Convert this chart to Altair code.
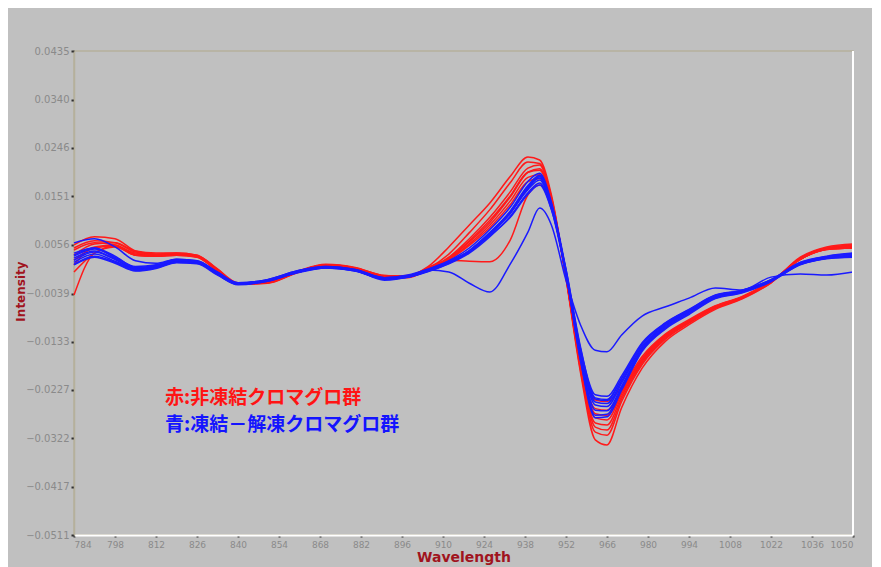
import altair as alt
import pandas as pd

# Wavelength grid (nm)
wavelengths = [784, 791, 798, 805, 812, 819, 826, 833, 840, 850, 860, 870, 880, 890,
               898, 905, 912, 919, 926, 933, 939, 943, 947, 952, 957, 962, 966, 971,
               978, 986, 994, 1003, 1012, 1022, 1032, 1041, 1050]

# Intensities in units of 1e-4
red_1 = [50, 64, 60, 42, 38, 40, 36, 8, -20, -18, 2, 16, 10, -5, -4, 14, 52, 95, 138, 190, 228, 222, 154, -10, -195, -325, -335, -262, -185, -132, -100, -70, -50, -18, 32, 52, 58]
red_2 = [56, 72, 68, 44, 37, 39, 35, 7, -19, -17, 3, 17, 11, -5, -6, 10, 38, 80, 125, 178, 218, 215, 150, -8, -190, -310, -316, -250, -178, -128, -97, -68, -49, -18, 30, 50, 56]
red_3 = [17, 52, 56, 38, 36, 38, 34, 6, -20, -18, 2, 16, 10, -6, -7, 8, 32, 68, 110, 160, 206, 212, 148, -6, -185, -300, -306, -245, -175, -126, -96, -67, -48, -17, 30, 50, 54]
red_4 = [3, 40, 54, 40, 37, 38, 33, 5, -21, -19, 1, 15, 9, -6, -8, 8, 30, 62, 100, 150, 198, 205, 145, -8, -182, -292, -296, -240, -172, -124, -94, -66, -47, -16, 28, 48, 52]
red_5 = [46, 60, 56, 36, 35, 37, 33, 6, -19, -17, 3, 17, 11, -4, -6, 9, 28, 58, 95, 142, 188, 193, 140, -5, -178, -282, -286, -235, -170, -122, -93, -65, -46, -16, 28, 47, 50]
red_6 = [36, 58, 60, 44, 40, 40, 36, 9, -18, -16, 4, 18, 12, -4, -5, 9, 27, 55, 90, 135, 180, 186, 136, -3, -172, -264, -267, -228, -166, -120, -92, -64, -46, -16, 28, 48, 53]
red_7 = [-42, 40, 52, 36, 34, 36, 32, 5, -20, -18, 2, 16, 10, -6, -6, 8, 30, 64, 104, 152, 198, 202, 144, -6, -176, -274, -277, -232, -168, -121, -93, -65, -47, -16, 28, 48, 51]
red_8 = [26, 50, 54, 36, 34, 36, 33, 6, -19, -17, 3, 16, 10, -5, -5, 12, 26, 24, 23, 66, 154, 173, 134, -2, -168, -247, -250, -222, -162, -118, -90, -63, -45, -15, 28, 47, 50]

blue_1 = [60, 68, 52, 25, 20, 28, 25, 3, -18, -12, 5, 14, 8, -8, -4, 8, 25, 50, 86, 130, 180, 196, 140, 8, -148, -237, -240, -200, -135, -96, -70, -42, -33, -12, 22, 34, 40]
blue_2 = [40, 50, 34, 12, 16, 27, 24, 2, -19, -13, 4, 13, 6, -10, -6, 6, 22, 45, 80, 122, 170, 192, 136, 5, -152, -243, -246, -205, -138, -98, -72, -43, -34, -13, 20, 33, 38]
blue_3 = [30, 44, 28, 9, 13, 24, 22, 0, -20, -14, 2, 12, 5, -11, -6, 5, 20, 42, 76, 118, 166, 189, 133, 2, -156, -251, -254, -210, -142, -100, -74, -45, -35, -14, 19, 31, 36]
blue_4 = [26, 42, 28, 10, 14, 25, 23, 1, -19, -13, 3, 12, 7, -9, -5, 7, 22, 44, 78, 120, 164, 183, 130, 0, -160, -257, -260, -214, -145, -102, -75, -46, -35, -13, 20, 31, 35]
blue_5 = [22, 38, 24, 8, 12, 22, 21, -1, -21, -15, 2, 11, 5, -10, -7, 4, 19, 40, 72, 112, 158, 177, 126, -3, -165, -267, -268, -220, -148, -104, -76, -47, -36, -14, 18, 30, 34]
blue_6 = [18, 34, 22, 6, 11, 22, 20, -2, -22, -15, 1, 11, 6, -11, -7, 5, 21, 43, 77, 118, 168, 187, 132, 0, -170, -277, -275, -224, -150, -106, -78, -48, -37, -15, 17, 29, 32]
blue_7 = [17, 32, 20, 5, 10, 21, 19, -3, -21, -14, 2, 12, 6, -10, -6, 6, 22, 45, 80, 122, 172, 191, 135, 2, -172, -282, -280, -228, -152, -108, -80, -49, -38, -16, 18, 30, 36]
blue_8 = [34, 48, 32, 14, 17, 28, 25, 2, -18, -12, 5, 14, 8, -8, -3, 9, 24, 44, 74, 110, 155, 173, 125, 8, -145, -245, -248, -205, -138, -97, -71, -43, -33, -12, 21, 33, 39]
blue_9 = [36, 50, 30, 11, 15, 26, 23, 1, -19, -13, 3, 13, 7, -13, -7, 7, 3, -19, -36, 19, 81, 128, 95, -13, -101, -150, -153, -120, -83, -65, -48, -28, -32, -7, -1, -3, 3]

red_series = [red_1, red_2, red_3, red_4, red_5, red_6, red_7, red_8]
blue_series = [blue_1, blue_2, blue_3, blue_4, blue_5, blue_6, blue_7, blue_8, blue_9]

x_ticks = [784, 798, 812, 826, 840, 854, 868, 882, 896, 910, 924, 938, 952, 966,
           980, 994, 1008, 1022, 1036, 1050]
y_ticks = [0.0435, 0.0340, 0.0246, 0.0151, 0.0056, -0.0039, -0.0133, -0.0227,
           -0.0322, -0.0417, -0.0511]

legend_lines = ["赤:非凍結クロマグロ群", "青:凍結－解凍クロマグロ群"]
legend_colors = ["#ff1414", "#1414ff"]

rows = []
for group, series_list in (("red", red_series), ("blue", blue_series)):
    for i, s in enumerate(series_list):
        for w, v in zip(wavelengths, s):
            rows.append({"wl": w, "val": v * 1e-4, "series": f"{group}{i+1}",
                         "group": group})
df = pd.DataFrame(rows)

x_enc = alt.X("wl:Q", scale=alt.Scale(domain=[784, 1050], nice=False, zero=False),
              axis=alt.Axis(values=x_ticks, format="d", title="Wavelength",
                            grid=False, labelFontSize=9, labelColor="#8a8a8a",
                            labelFont="DejaVu Sans", labelPadding=3,
                            domainColor="white", domainWidth=2,
                            tickColor="#303030", tickSize=2, tickWidth=2,
                            titleColor="#a0141e", titleFont="DejaVu Sans",
                            titleFontSize=14, titleFontWeight="bold",
                            titleY=22, titleBaseline="middle"))
y_enc = alt.Y("val:Q", scale=alt.Scale(domain=[-0.0511, 0.0435], nice=False, zero=False),
              axis=alt.Axis(values=y_ticks, format=".4f", title="Intensity",
                            grid=False, labelFontSize=10, labelColor="#8a8a8a",
                            labelFont="DejaVu Sans", labelPadding=2,
                            domainColor="#b5b09c", domainWidth=1.5,
                            tickColor="#303030", tickSize=3, tickWidth=2,
                            titleColor="#a0141e", titleFont="DejaVu Sans",
                            titleFontSize=12, titleFontWeight="bold",
                            titleAngle=-90, titleX=-54, titleY=240,
                            titleAlign="center", titleBaseline="middle"))

lines = alt.Chart(df).mark_line(strokeWidth=1.5, interpolate="monotone").encode(
    x=x_enc, y=y_enc,
    detail="series:N",
    order=alt.Order("wl:Q"),
    color=alt.Color("group:N", scale=alt.Scale(domain=["red", "blue"],
                                                range=["#ff1a1a", "#1a1aff"]),
                    legend=None),
)

right_edge = alt.Chart(pd.DataFrame({"wl": [1050]})).mark_rule(
    color="white", strokeWidth=2).encode(x=alt.X("wl:Q"))

legend_df = pd.DataFrame({"text": legend_lines, "color": legend_colors,
                          "row": [0, 1]})
legend = alt.Chart(legend_df).mark_text(
    align="left", baseline="middle", fontSize=19, fontWeight="bold",
    font="Noto Sans CJK JP").encode(
    text="text:N",
    x=alt.value(91),
    y=alt.Y("row:Q", scale=alt.Scale(domain=[0, 1], range=[347, 374]), axis=None),
    color=alt.Color("color:N", scale=None),
)

chart = alt.layer(lines, right_edge, legend).resolve_scale(y="independent").properties(
    width=779, height=484,
    background="#c0c0c0",
    padding={"left": 66, "top": 43, "right": 19, "bottom": 32},
    autosize=alt.AutoSizeParams(type="none"),
).configure_view(stroke="#b5b09c", strokeWidth=1.5)

chart.save("out.html", embed_options={"renderer": "svg", "actions": False})
